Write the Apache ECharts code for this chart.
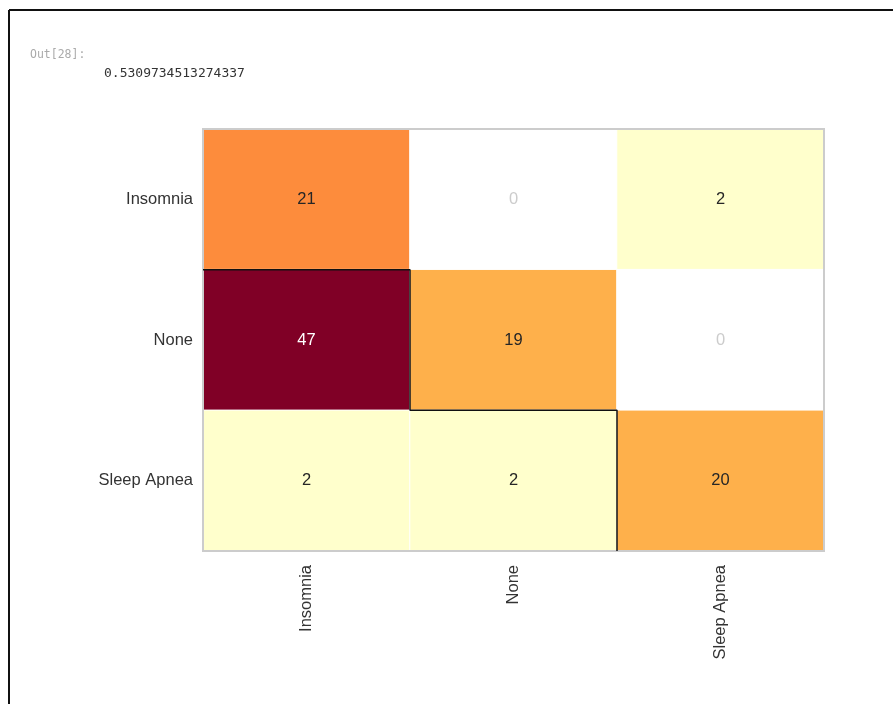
<!DOCTYPE html>
<html><head><meta charset="utf-8">
<script src="https://cdn.jsdelivr.net/npm/echarts@6/dist/echarts.min.js"></script>
<style>html,body{margin:0;padding:0;background:#fff;}#c{width:893px;height:704px;}</style>
</head><body><div id="c"></div>
<script>
const xCategories = ['Insomnia', 'None', 'Sleep Apnea'];
const yCategories = ['Insomnia', 'None', 'Sleep Apnea'];
// rows: true class, cols: predicted class
const matrix = [
  [21, 0, 2],
  [47, 19, 0],
  [2, 2, 20]
];
const outLabel = 'Out[28]:';
const outValue = '0.5309734513274337';
// staircase outline (cell-boundary coordinates)
const outline = [[0, 1], [1, 1], [1, 2], [2, 2], [2, 3]];

const data = [];
matrix.forEach((row, r) => row.forEach((v, c) => {
  data.push({
    value: [c, r, v],
    label: { color: v === 0 ? '#cccccc' : (v > 30 ? '#ffffff' : '#262626') }
  });
}));

const G = { left: 203, top: 129, width: 621, height: 422 };
const chart = echarts.init(document.getElementById('c'));
chart.setOption({
  animation: false,
  backgroundColor: '#ffffff',
  grid: { left: G.left, top: G.top, width: G.width, height: G.height, containLabel: false },
  xAxis: [
    { type: 'category', data: xCategories, position: 'bottom',
      axisLine: { show: false }, axisTick: { show: false }, splitLine: { show: false },
      axisLabel: { rotate: 90, margin: 14, fontSize: 16.5, color: '#333333', fontFamily: 'Liberation Sans' } },
    { type: 'value', min: 0, max: 3, show: false }
  ],
  yAxis: [
    { type: 'category', data: yCategories, inverse: true,
      axisLine: { show: false }, axisTick: { show: false }, splitLine: { show: false },
      axisLabel: { margin: 10, fontSize: 16.5, color: '#333333', fontFamily: 'Liberation Sans' } },
    { type: 'value', min: 0, max: 3, inverse: true, show: false }
  ],
  visualMap: {
    show: false, type: 'piecewise', dimension: 2, seriesIndex: 0,
    pieces: [
      { value: 0, color: '#ffffff' },
      { gt: 0, lte: 10, color: '#ffffcc' },
      { gt: 10, lte: 20, color: '#feb04b' },
      { gt: 20, lte: 30, color: '#fd8c3c' },
      { gt: 30, color: '#800026' }
    ]
  },
  series: [
    { type: 'heatmap', data: data, xAxisIndex: 0, yAxisIndex: 0,
      itemStyle: { borderColor: '#ffffff', borderWidth: 1 },
      label: { show: true, fontSize: 16.5, fontFamily: 'Liberation Sans', formatter: p => p.value[2] },
      emphasis: { disabled: true } },
    { type: 'line', xAxisIndex: 1, yAxisIndex: 1, data: outline, symbol: 'none',
      lineStyle: { color: '#111111', width: 1.5 }, z: 5 }
  ],
  graphic: [
    { type: 'rect', z: 4, shape: { x: G.left, y: G.top, width: G.width, height: G.height },
      style: { fill: 'none', stroke: '#cccccc', lineWidth: 2 } },
    { type: 'line', shape: { x1: 9, y1: 10, x2: 893, y2: 10 }, style: { stroke: '#111', lineWidth: 2 } },
    { type: 'line', shape: { x1: 9, y1: 10, x2: 9, y2: 704 }, style: { stroke: '#111', lineWidth: 2 } },
    { type: 'text', left: 30, top: 49, style: { text: outLabel, fill: '#aaaaaa', font: '11.5px "DejaVu Sans Mono"' } },
    { type: 'text', left: 104, top: 67, style: { text: outValue, fill: '#333333', font: '13px "DejaVu Sans Mono"' } }
  ]
});
</script></body></html>
